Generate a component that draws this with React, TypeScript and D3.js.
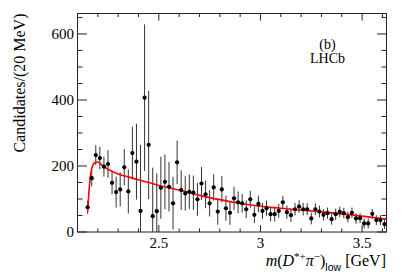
import React from 'react';
import * as d3 from 'd3';

// bin centres (GeV), 20 MeV bins
const masses = [
  2.15, 2.17, 2.19, 2.21, 2.23, 2.25, 2.27, 2.29, 2.31, 2.33,
  2.35, 2.37, 2.39, 2.41, 2.43, 2.45, 2.47, 2.49, 2.51, 2.53,
  2.55, 2.57, 2.59, 2.61, 2.63, 2.65, 2.67, 2.69, 2.71, 2.73,
  2.75, 2.77, 2.79, 2.81, 2.83, 2.85, 2.87, 2.89, 2.91, 2.93,
  2.95, 2.97, 2.99, 3.01, 3.03, 3.05, 3.07, 3.09, 3.11, 3.13,
  3.15, 3.17, 3.19, 3.21, 3.23, 3.25, 3.27, 3.29, 3.31, 3.33,
  3.35, 3.37, 3.39, 3.41, 3.43, 3.45, 3.47, 3.49, 3.51, 3.53,
  3.55, 3.57, 3.59, 3.61,
];

const counts = [
  75, 163, 233, 224, 198, 206, 149, 121, 129, 196,
  123, 239, 213, 64, 407, 264, 48, 63, 134, 152,
  137, 87, 211, 127, 117, 122, 119, 99, 147, 114,
  87, 135, 62, 129, 72, 58, 102, 90, 87, 69,
  99, 52, 85, 64, 72, 54, 54, 64, 90, 60,
  51, 69, 77, 69, 69, 41, 69, 62, 52, 57,
  39, 54, 61, 57, 45, 58, 41, 42, 26, 26,
  55, 36, 36, 24,
];

const errors = [
  20, 25, 30, 34, 30, 42, 35, 47, 52, 55,
  67, 80, 115, 200, 222, 164, 147, 115, 94, 83,
  75, 80, 66, 60, 52, 52, 52, 50, 50, 42,
  40, 40, 40, 40, 38, 36, 35, 33, 28, 27,
  26, 25, 25, 24, 23, 22, 22, 21, 20, 20,
  20, 19, 19, 19, 18, 18, 18, 18, 17, 17,
  17, 17, 16, 16, 16, 16, 16, 15, 15, 15,
  15, 15, 15, 15,
];

// fit curve
const fitMass = [2.15, 2.16, 2.17, 2.185, 2.2, 2.22, 2.25, 2.3, 2.35, 2.4, 2.45, 2.5, 2.55, 2.6, 2.7, 2.8, 2.9, 3.0, 3.1, 3.2, 3.3, 3.4, 3.5, 3.62];
const fitValue = [62, 150, 192, 210, 212, 203, 190, 176, 167, 158, 150, 141, 134, 127, 111, 98, 87, 78, 72, 66, 61, 55, 48, 39];

const xMajorTicks = [2.5, 3, 3.5];
const xTickLabels = ['2.5', '3', '3.5'];
const xMinorTicks = [2.2, 2.3, 2.4, 2.6, 2.7, 2.8, 2.9, 3.1, 3.2, 3.3, 3.4, 3.6];
const yMajorTicks = [0, 200, 400, 600];
const yTickLabels = ['0', '200', '400', '600'];
const yMinorTicks = [50, 100, 150, 250, 300, 350, 450, 500, 550, 650];

const W = 407;
const H = 277;
const left = 77.5;
const right = 386.5;
const top = 13.5;
const bottom = 232;

export default function App() {
  const x = d3.scaleLinear().domain([2.1, 3.62]).range([left, right]);
  const y = d3.scaleLinear().domain([0, 662]).range([bottom, top]);

  const fitLine = d3
    .line<number>()
    .x((d, i) => x(fitMass[i]))
    .y((d) => y(d))
    .curve(d3.curveMonotoneX);

  const serif = 'Liberation Serif, Times New Roman, serif';
  const axisColor = '#222';

  return (
    <svg width={W} height={H} style={{ position: 'absolute', left: 0, top: 0, background: '#fff' }}>
      <defs>
        <clipPath id="frame">
          <rect x={left} y={top} width={right - left} height={bottom - top} />
        </clipPath>
      </defs>
      <rect x={0} y={0} width={W} height={H} fill="#fff" />

      {/* error bars + markers */}
      <g clipPath="url(#frame)">
        {masses.map((m, i) => (
          <line
            key={'e' + i}
            x1={x(m)}
            x2={x(m)}
            y1={y(counts[i] - errors[i])}
            y2={y(counts[i] + errors[i])}
            stroke="#333"
            strokeWidth={1}
          />
        ))}
        <path d={fitLine(fitValue) || ''} fill="none" stroke="#ff0000" strokeWidth={1.6} />
        {masses.map((m, i) => (
          <circle key={'p' + i} cx={x(m)} cy={y(counts[i])} r={2.1} fill="#000" />
        ))}
      </g>

      {/* frame */}
      <rect x={left} y={top} width={right - left} height={bottom - top} fill="none" stroke={axisColor} strokeWidth={1} />

      {/* x ticks, bottom and top */}
      {xMajorTicks.map((t) => (
        <g key={'xM' + t}>
          <line x1={x(t)} x2={x(t)} y1={bottom} y2={bottom - 7} stroke={axisColor} />
          <line x1={x(t)} x2={x(t)} y1={top} y2={top + 7} stroke={axisColor} />
        </g>
      ))}
      {xMinorTicks.map((t) => (
        <g key={'xm' + t}>
          <line x1={x(t)} x2={x(t)} y1={bottom} y2={bottom - 3.5} stroke={axisColor} />
          <line x1={x(t)} x2={x(t)} y1={top} y2={top + 3.5} stroke={axisColor} />
        </g>
      ))}
      {xMajorTicks.map((t, i) => (
        <text key={'xl' + t} x={x(t)} y={247.5} textAnchor="middle" fontFamily={serif} fontSize={15} fill="#000">
          {xTickLabels[i]}
        </text>
      ))}

      {/* y ticks, left and right */}
      {yMajorTicks.map((t) => (
        <g key={'yM' + t}>
          <line x1={left} x2={left + 9.5} y1={y(t)} y2={y(t)} stroke={axisColor} />
          <line x1={right} x2={right - 9.5} y1={y(t)} y2={y(t)} stroke={axisColor} />
        </g>
      ))}
      {yMinorTicks.map((t) => (
        <g key={'ym' + t}>
          <line x1={left} x2={left + 5} y1={y(t)} y2={y(t)} stroke={axisColor} />
          <line x1={right} x2={right - 5} y1={y(t)} y2={y(t)} stroke={axisColor} />
        </g>
      ))}
      {yMajorTicks.map((t, i) => (
        <text key={'yl' + t} x={74} y={y(t) + 5} textAnchor="end" fontFamily={serif} fontSize={15} fill="#000">
          {yTickLabels[i]}
        </text>
      ))}

      {/* axis titles */}
      <text transform={`translate(24.5,${top}) rotate(-90)`} textAnchor="end" fontFamily={serif} fontSize={16} fill="#000">
        Candidates/(20 MeV)
      </text>
      <text x={386} y={266} textAnchor="end" fontFamily={serif} fontSize={16} fill="#000">
        <tspan fontStyle="italic">m</tspan>
        <tspan>(</tspan>
        <tspan fontStyle="italic">D</tspan>
        <tspan fontSize={11} dy={-6}>*+</tspan>
        <tspan fontStyle="italic" dy={6}>π</tspan>
        <tspan fontSize={11} dy={-6}>−</tspan>
        <tspan dy={6}>)</tspan>
        <tspan fontFamily="Liberation Sans, Arial, sans-serif" fontSize={10.5} dy={5}>low</tspan>
        <tspan dy={-5}> [GeV]</tspan>
      </text>

      {/* labels */}
      <text x={327.5} y={49} textAnchor="middle" fontFamily={serif} fontSize={14} fill="#000">
        (b)
      </text>
      <text x={327.5} y={63} textAnchor="middle" fontFamily={serif} fontSize={14} fill="#000">
        LHCb
      </text>
    </svg>
  );
}
